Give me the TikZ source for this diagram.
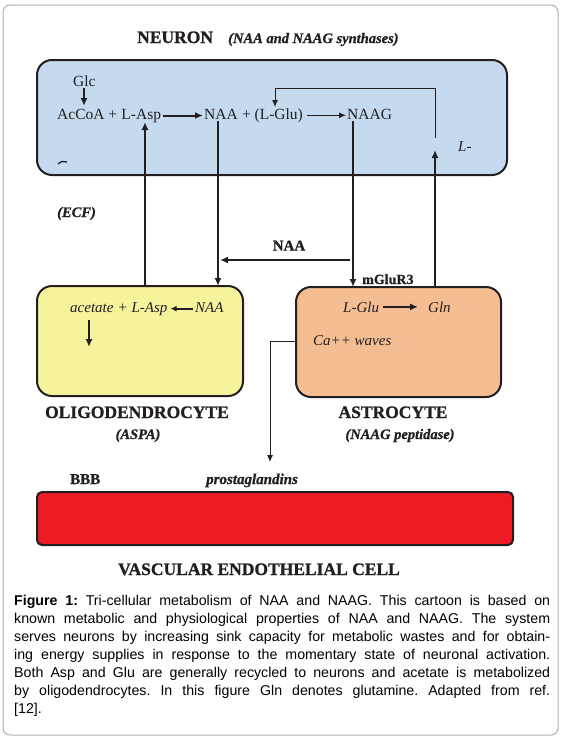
\documentclass[tikz,border=0pt]{standalone}
\usepackage{fontspec}
\setmainfont{Liberation Serif}
\newfontfamily\capfont{Liberation Sans}
\newfontfamily\heavyfont[FakeBold=1]{Liberation Serif Bold}
\newfontfamily\heavyitfont[FakeBold=1]{Liberation Serif Bold Italic}
\usetikzlibrary{arrows.meta}
\definecolor{neuronblue}{RGB}{197,218,238}
\definecolor{oligoyellow}{RGB}{246,243,157}
\definecolor{astrosalmon}{RGB}{244,190,146}
\definecolor{vesselred}{RGB}{237,28,36}
\definecolor{framegray}{RGB}{175,175,175}
\definecolor{ink}{RGB}{35,31,32}
\newcommand{\setfs}[1]{\fontsize{#1}{#1}\selectfont}
\begin{document}
\begin{tikzpicture}[x=1pt,y=-1pt,
  txt/.style={inner sep=0, anchor=base west, text=ink},
  titletxt/.style={txt, font=\heavyfont\setfs{17.5}},
  subtxt/.style={txt, font=\heavyitfont\setfs{14.5}},
  pathtxt/.style={txt, font=\setfs{15.5}},
  celltxt/.style={txt, font=\setfs{15}\itshape},
  boldlbl/.style={txt, font=\heavyfont\setfs{15}},
  cellbox/.style={draw=ink, line width=2, rounded corners=15, inner sep=0},
  thickarrow/.style={draw=ink, line width=2, -{Latex[length=8,width=7]}},
  thinarrow/.style={draw=ink, line width=1, -{Latex[length=7,width=6]}},
  thinline/.style={draw=ink, line width=1}
]
\useasboundingbox (0,0) rectangle (564,739);
\node[draw=framegray, line width=1, rounded corners=7, minimum width=555, minimum height=730, inner sep=0] (frame) at (280.5,370) {};

% cells
\node[cellbox, fill=neuronblue, minimum width=470, minimum height=115] (neuron) at (272,117.5) {};
\node[cellbox, fill=oligoyellow, minimum width=206, minimum height=110] (oligo) at (140,341) {};
\node[cellbox, fill=astrosalmon, minimum width=205, minimum height=110] (astro) at (398.5,342) {};
\node[draw=ink, line width=2, rounded corners=5, fill=vesselred, minimum width=476, minimum height=53, inner sep=0] (vessel) at (275,518.5) {};

% titles
\node[titletxt] (neurontitle) at (137,43) {NEURON};
\node[subtxt] (synth) at (228,43) {(NAA and NAAG synthases)};
\node[titletxt, anchor=base] (oligotitle) at (137,418) {OLIGODENDROCYTE};
\node[subtxt, anchor=base] (aspa) at (138,439) {(ASPA)};
\node[titletxt, anchor=base] (astrotitle) at (393,418) {ASTROCYTE};
\node[subtxt, anchor=base] (peptidase) at (400,439) {(NAAG peptidase)};
\node[titletxt, anchor=base] (vasctitle) at (259,575) {VASCULAR ENDOTHELIAL CELL};
\node[boldlbl] (bbb) at (70,484) {BBB};
\node[subtxt, font=\heavyitfont\setfs{15}] (prosta) at (206,484) {prostaglandins};
\node[subtxt] (ecf) at (57,217) {(ECF)};

% neuron pathway
\node[pathtxt] (glc) at (73,86) {Glc};
\node[pathtxt] (acc) at (57,119) {AcCoA +\kern0.25em};
\node[pathtxt, anchor=base west] (asp) at (acc.base east) {L-Asp};
\node[pathtxt] (naa) at (204,119) {NAA};
\node[pathtxt, anchor=base west] (glu) at (naa.base east) {\kern0.25em+ (L-Glu)};
\node[pathtxt] (naag) at (347,119) {NAAG};
\node[celltxt] (lminus) at (458,151) {L-};
\draw[ink, line width=1.3] (58,164) .. controls (61,161) and (64,161) .. (67,162);

\draw[thickarrow] (glc.south -| 84,0) ++(0,2) -- (84,106);
\draw[thickarrow, shorten <=2, shorten >=1] (asp.east) -- (naa.west |- asp.east);
\draw[thinarrow, shorten <=4, shorten >=1] (glu.east) -- (naag.west |- glu.east);

% feedback loop L-Glu
\coordinate (fbstart) at (435,138);
\coordinate (fbend) at (275,107);
\draw[thinarrow] (fbstart) -- (435,88) -| (fbend);

% connectors between cells
\coordinate (aspin) at (145,122);
\draw[thickarrow] (oligo.north -| aspin) -- (aspin);
\coordinate (naaout) at (218,121);
\draw[thickarrow, line width=2.3] (naaout) -- ([yshift=-1]oligo.north -| naaout);
\coordinate (naagout) at (353,121);
\draw[thickarrow, line width=2.3] (naagout) -- ([yshift=-1]astro.north -| naagout);
\coordinate (gluin) at (435,150);
\draw[thickarrow] (astro.north -| gluin) -- (gluin);
\coordinate (naaflow) at (350,260);
\draw[thickarrow] (naaflow) -- ([xshift=2]naaout |- naaflow);
\node[boldlbl, anchor=base] (naalbl) at (289,250.5) {NAA};
\node[boldlbl, font=\heavyfont\setfs{14}] (mglur) at (362,284) {mGluR3};

% oligodendrocyte content
\node[celltxt] (acetate) at (70,312) {acetate};
\node[celltxt, anchor=base west] (plusasp) at (acetate.base east) {\kern0.25em+ L-Asp};
\node[celltxt] (onaa) at (195,312) {NAA};
\draw[thickarrow, -{Latex[length=6,width=6]}] (onaa.west |- plusasp.east) ++(-2,0) -- ([xshift=3]plusasp.east);
\coordinate (acdown) at (89,347);
\draw[thickarrow] (acdown |- acetate.south) ++(0,8) -- (acdown);

% astrocyte content
\node[celltxt] (lglu) at (343,312) {L-Glu};
\node[celltxt] (gln) at (428,312) {Gln};
\draw[thickarrow] ([xshift=4]lglu.east) -- ([xshift=-10]gln.west |- lglu.east);
\node[celltxt] (ca) at (313,345) {Ca++ waves};
\coordinate (pgend) at (270,462);
\draw[thinarrow] (astro.west |- 0,341) -| (pgend);

% caption
\node[anchor=north west, inner sep=0, text width=536, align=justify, text=black,
      font=\capfont\fontsize{14.2}{18}\selectfont] (caption) at (14,595)
{\frenchspacing\textbf{Figure 1:} Tri-cellular metabolism of NAA and NAAG. This cartoon is based on\linebreak{}
known metabolic and physiological properties of NAA and NAAG. The system\linebreak{}
serves neurons by increasing sink capacity for metabolic wastes and for obtain-\linebreak{}
ing energy supplies in response to the momentary state of neuronal activation.\linebreak{}
Both Asp and Glu are generally recycled to neurons and acetate is metabolized\linebreak{}
by oligodendrocytes. In this figure Gln denotes glutamine. Adapted from ref.\linebreak{}
{[12].}\par};
\end{tikzpicture}
\end{document}
